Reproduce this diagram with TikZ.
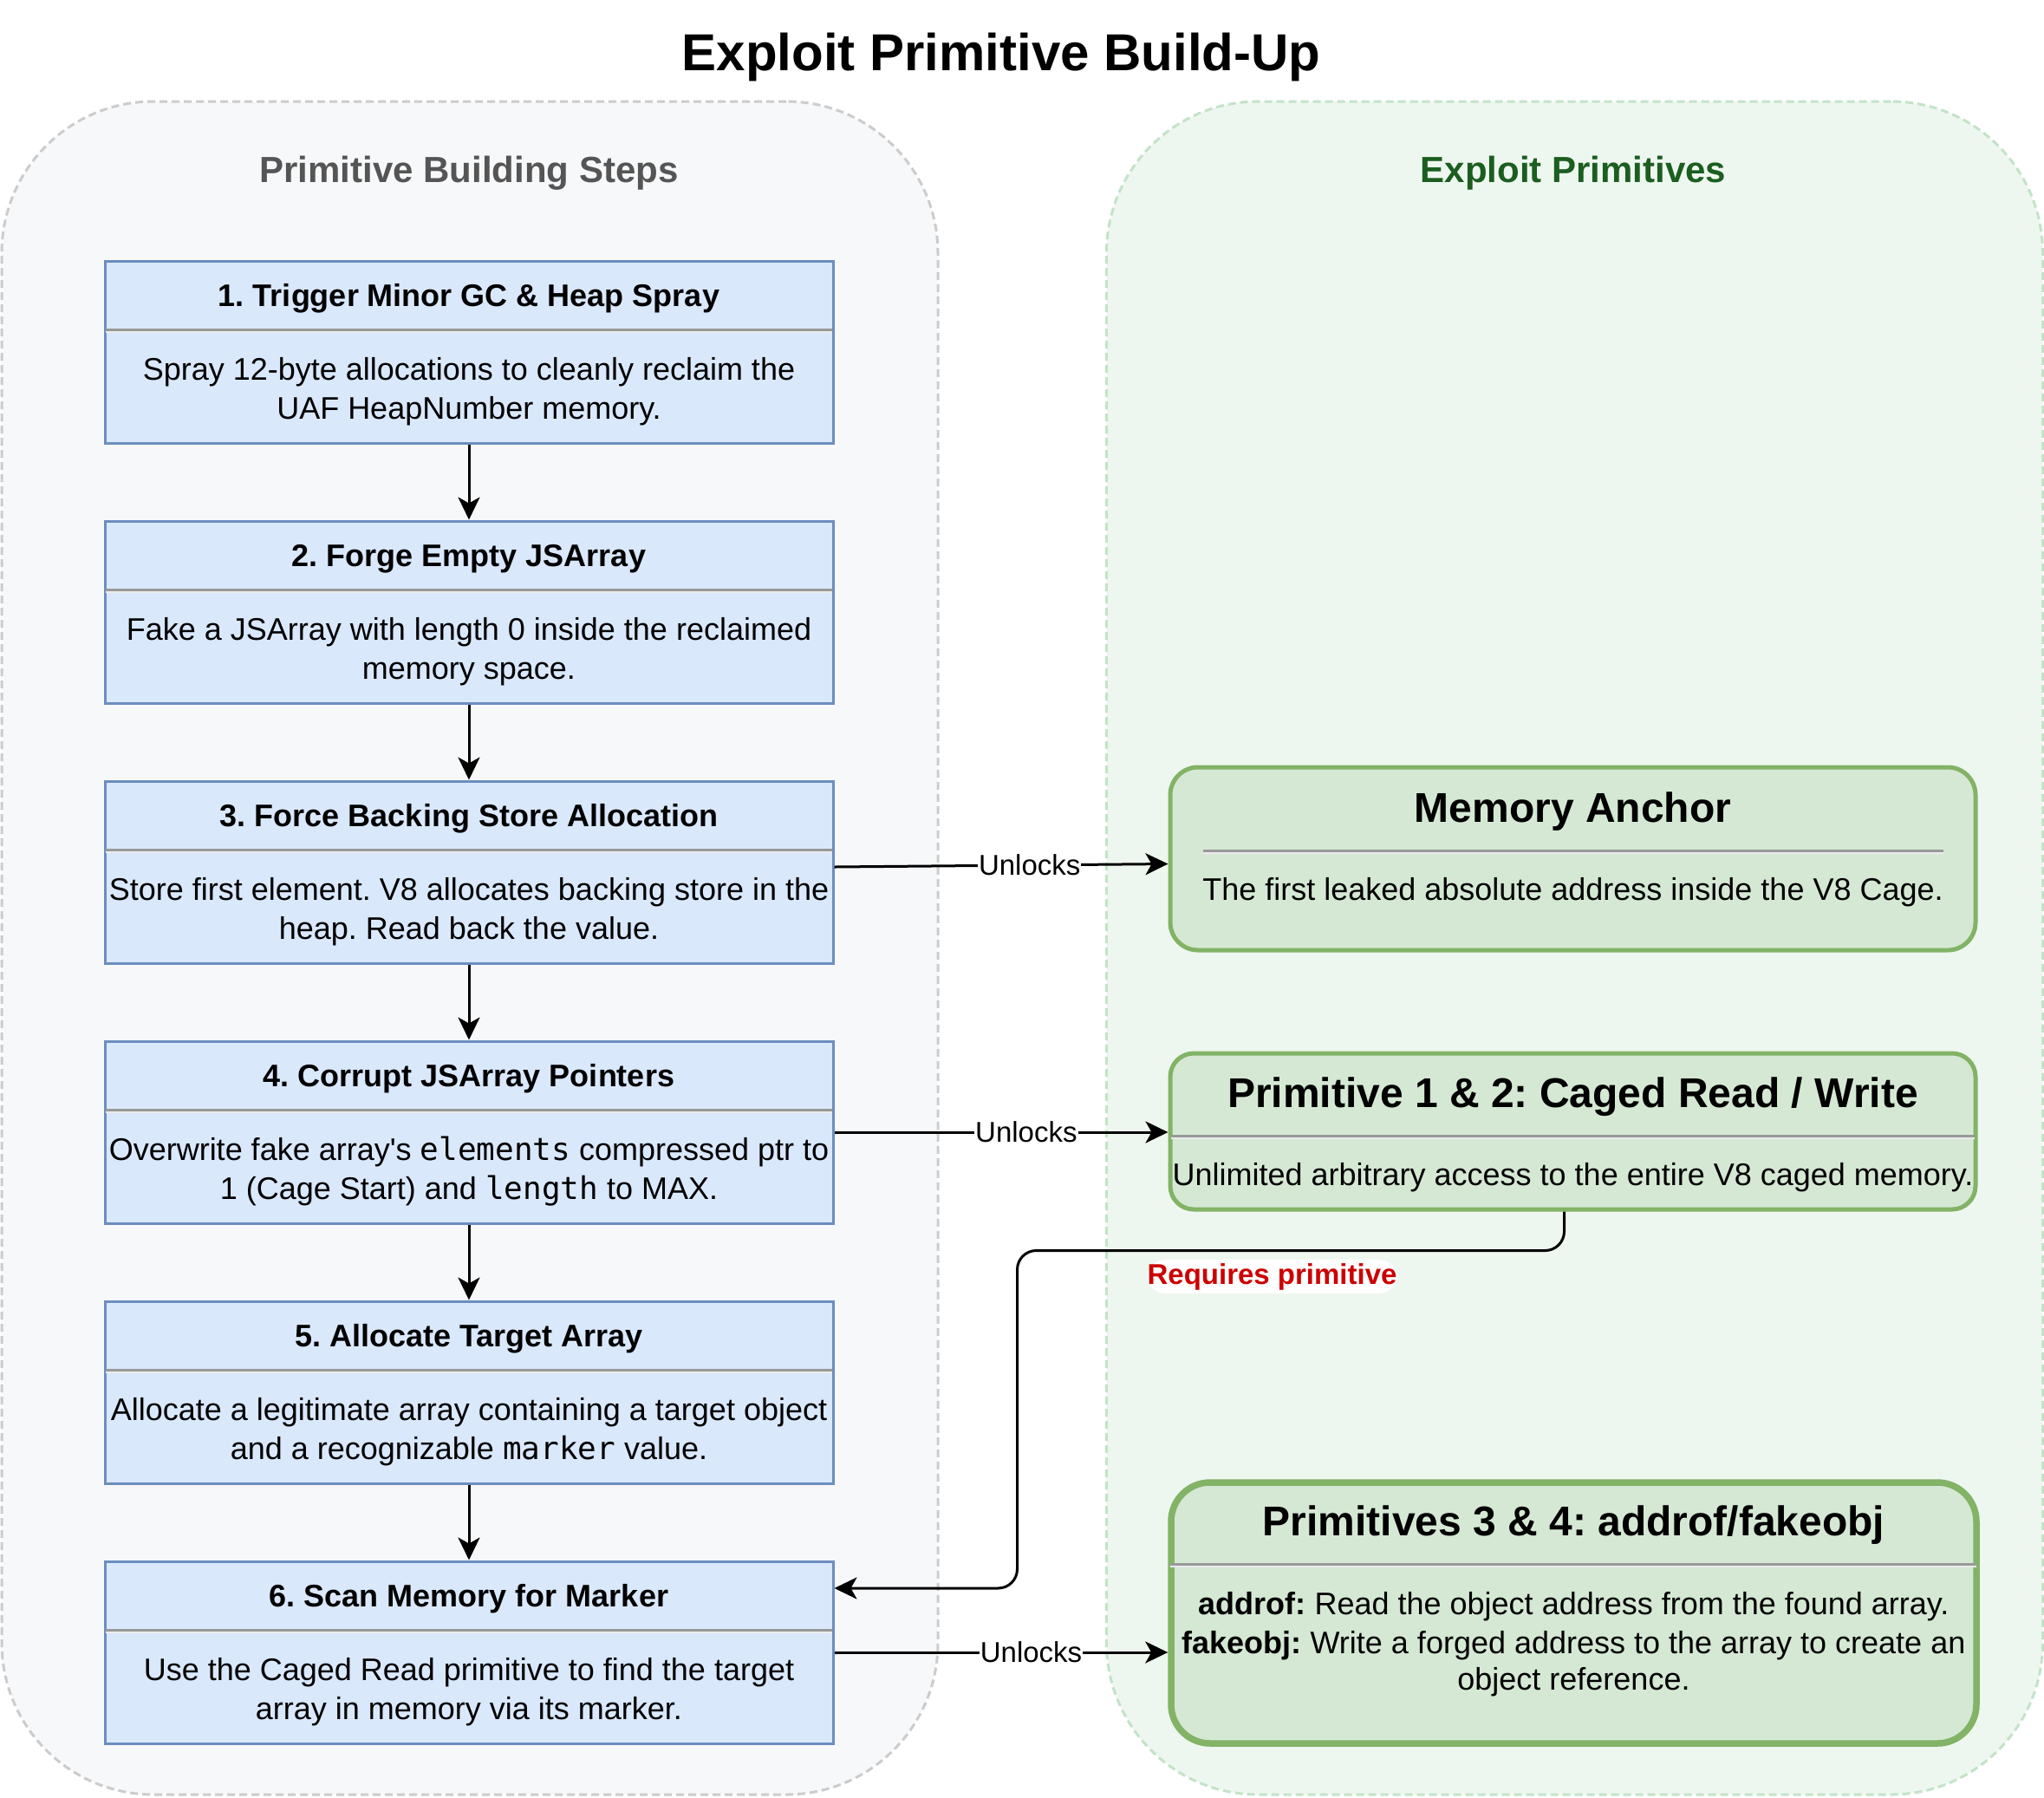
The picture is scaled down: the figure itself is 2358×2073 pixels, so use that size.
\documentclass[tikz,border=0pt]{standalone}
\usepackage{fontspec}
\setmainfont{Liberation Sans}
\setmonofont{DejaVu Sans Mono}
\usetikzlibrary{arrows.meta,positioning}
\frenchspacing

\definecolor{stepfill}{HTML}{DAE8FC}
\definecolor{stepdraw}{HTML}{6C8EBF}
\definecolor{primfill}{HTML}{D5E8D4}
\definecolor{primdraw}{HTML}{82B366}
\definecolor{leftbg}{HTML}{F7F8FA}
\definecolor{leftline}{HTML}{CCCCCC}
\definecolor{rightbg}{HTML}{EEF7EF}
\definecolor{rightline}{HTML}{C3E3C8}
\definecolor{hrgray}{HTML}{999999}
\definecolor{hrlight}{HTML}{EBEBEB}
\definecolor{titlegray}{HTML}{555555}
\definecolor{titlegreen}{HTML}{1B5E20}
\definecolor{reqred}{HTML}{CC0000}

\begin{document}
\begin{tikzpicture}[x=1pt, y=-1pt,
    panel/.style = {rectangle, rounded corners=175pt, line width=3pt,
dash pattern=on 9pt off 5pt, minimum width=1080pt, minimum height=1953pt},
    stepbox/.style = {rectangle, draw=stepdraw, fill=stepfill, line width=3pt,
minimum width=840pt, minimum height=210pt},
    primbox/.style = {rectangle, draw=primdraw, fill=primfill, line width=5pt,
minimum width=929pt},
    steptitle/.style = {anchor=base, inner sep=0pt, font=\fontsize{36}{45}\selectfont\bfseries},
    stepbody/.style = {anchor=base, inner sep=0pt, align=center, font=\fontsize{36}{45}\selectfont},
    primtitle/.style = {anchor=base, inner sep=0pt, font=\fontsize{48}{58}\selectfont\bfseries},
    hr/.style = {draw=hrgray, line width=2.7pt,
postaction={draw=hrlight, line width=2.3pt, transform canvas={yshift=-2.5pt}}},
    conn/.style = {draw, line width=3pt, -{Stealth[length=26pt, width=25pt, inset=7pt]}},
    unlock/.style = {fill=white, inner sep=1pt, font=\fontsize{33}{40}\selectfont},
    reqlabel/.style = {fill=white, text=reqred, inner xsep=1pt, inner ysep=4pt,
font=\fontsize{33}{40}\selectfont\bfseries},
    node distance=300pt
]

  \useasboundingbox (0,0) rectangle (2358,2073);

  % background panels
  \node (stepspanel) [panel, draw=leftline, fill=leftbg] at (542,1093.5) {};
  \node (primspanel) [panel, draw=rightline, fill=rightbg] at (1816.5,1093.5) {};

  \node (title) [anchor=base, font=\fontsize{60}{72}\selectfont\bfseries] at (1155,81) {Exploit Primitive Build-Up};
  \node (stepshead) [anchor=base, text=titlegray, font=\fontsize{42}{50}\selectfont\bfseries] at (541,210) {Primitive Building Steps};
  \node (primshead) [anchor=base, text=titlegreen, font=\fontsize{42}{50}\selectfont\bfseries] at (1815,210) {Exploit Primitives};

  % building steps
  \node (s1) [stepbox] at (541,406) {};
  \node (s2) [stepbox, below of=s1] {};
  \node (s3) [stepbox, below of=s2] {};
  \node (s4) [stepbox, below of=s3] {};
  \node (s5) [stepbox, below of=s4] {};
  \node (s6) [stepbox, below of=s5] {};

  % the base of a two-line body is its last line
  \node (s1t) [steptitle] at ([yshift=-54pt]s1.north) {1. Trigger Minor GC \& Heap Spray};
  \draw[hr] ([xshift=2pt,yshift=-81pt]s1.north west) -- ([xshift=-3pt,yshift=-81pt]s1.north east);
  \node (s1b) [stepbody] at ([yshift=-184pt]s1.north) {Spray 12-byte allocations to cleanly reclaim the\\UAF HeapNumber memory.};

  \node (s2t) [steptitle] at ([yshift=-54pt]s2.north) {2. Forge Empty JSArray};
  \draw[hr] ([xshift=2pt,yshift=-81pt]s2.north west) -- ([xshift=-3pt,yshift=-81pt]s2.north east);
  \node (s2b) [stepbody] at ([yshift=-184pt]s2.north) {Fake a JSArray with length 0 inside the reclaimed\\memory space.};

  \node (s3t) [steptitle] at ([yshift=-54pt]s3.north) {3. Force Backing Store Allocation};
  \draw[hr] ([xshift=2pt,yshift=-81pt]s3.north west) -- ([xshift=-3pt,yshift=-81pt]s3.north east);
  \node (s3b) [stepbody] at ([yshift=-184pt]s3.north) {Store first element. V8 allocates backing store in the\\heap. Read back the value.};

  \node (s4t) [steptitle] at ([yshift=-54pt]s4.north) {4. Corrupt JSArray Pointers};
  \draw[hr] ([xshift=2pt,yshift=-81pt]s4.north west) -- ([xshift=-3pt,yshift=-81pt]s4.north east);
  \node (s4b) [stepbody] at ([yshift=-184pt]s4.north) {Overwrite fake array\textquotesingle s \texttt{elements} compressed ptr to\\1 (Cage Start) and \texttt{length} to MAX.};

  \node (s5t) [steptitle] at ([yshift=-54pt]s5.north) {5. Allocate Target Array};
  \draw[hr] ([xshift=2pt,yshift=-81pt]s5.north west) -- ([xshift=-3pt,yshift=-81pt]s5.north east);
  \node (s5b) [stepbody] at ([yshift=-184pt]s5.north) {Allocate a legitimate array containing a target object\\and a recognizable \texttt{marker} value.};

  \node (s6t) [steptitle] at ([yshift=-54pt]s6.north) {6. Scan Memory for Marker};
  \draw[hr] ([xshift=2pt,yshift=-81pt]s6.north west) -- ([xshift=-3pt,yshift=-81pt]s6.north east);
  \node (s6b) [stepbody] at ([yshift=-184pt]s6.north) {Use the Caged Read primitive to find the target\\array in memory via its marker.};

  % primitives
  \node (memanchor) [primbox, rounded corners=32pt, minimum height=211pt] at (1814.5,990.5) {};
  \node (memanchort) [primtitle] at ([yshift=-66pt]memanchor.north) {Memory Anchor};
  \draw[hr] ([xshift=40pt,yshift=-99pt]memanchor.north west) -- ([xshift=-40pt,yshift=-99pt]memanchor.north east);
  \node (memanchorb) [stepbody] at ([yshift=-156pt]memanchor.north) {The first leaked absolute address inside the V8 Cage.};

  \node (prim12) [primbox, rounded corners=27pt, minimum height=180pt] at (1814.5,1305) {};
  \node (prim12t) [primtitle] at ([yshift=-65pt]prim12.north) {Primitive 1 \& 2: Caged Read / Write};
  \draw[hr] ([xshift=3pt,yshift=-98pt]prim12.north west) -- ([xshift=-4pt,yshift=-98pt]prim12.north east);
  \node (prim12b) [stepbody] at ([yshift=-155pt]prim12.north) {Unlimited arbitrary access to the entire V8 caged memory.};

  \node (prim34) [primbox, rounded corners=45pt, line width=7.5pt, minimum height=301pt] at (1815.5,1860.5) {};
  \node (prim34t) [primtitle] at ([yshift=-65pt]prim34.north) {Primitives 3 \& 4: addrof/fakeobj};
  \draw[hr] ([xshift=3pt,yshift=-98pt]prim34.north west) -- ([xshift=-4pt,yshift=-98pt]prim34.north east);
  \node (prim34b) [stepbody] at ([yshift=-243pt]prim34.north) {\textbf{addrof:} Read the object address from the found array.\\\textbf{fakeobj:} Write a forged address to the array to create an\\[-3pt]object reference.};

  % connectors
  \draw[conn] (s1) -- (s2);
  \draw[conn] (s2) -- (s3);
  \draw[conn] (s3) -- (s4);
  \draw[conn] (s4) -- (s5);
  \draw[conn] (s5) -- (s6);

  \draw[conn] ([yshift=6pt]s3.east) -- node[unlock, pos=0.585] {Unlocks} ([yshift=-6pt]memanchor.west);
  \draw[conn] (s4.east) -- node[unlock, pos=0.575] {Unlocks} (s4.east -| prim12.west);
  \draw[conn] (s6.east) -- node[unlock, pos=0.59] {Unlocks} (s6.east -| prim34.west);

  \draw[conn, rounded corners=22pt] ([xshift=-10pt]prim12.south) -- ++(0,45) -| node[reqlabel, pos=0.267, yshift=-30pt] {Requires primitive} ([xshift=211pt,yshift=74pt]s6.east) -- ([yshift=74pt]s6.east);

\end{tikzpicture}
\end{document}
